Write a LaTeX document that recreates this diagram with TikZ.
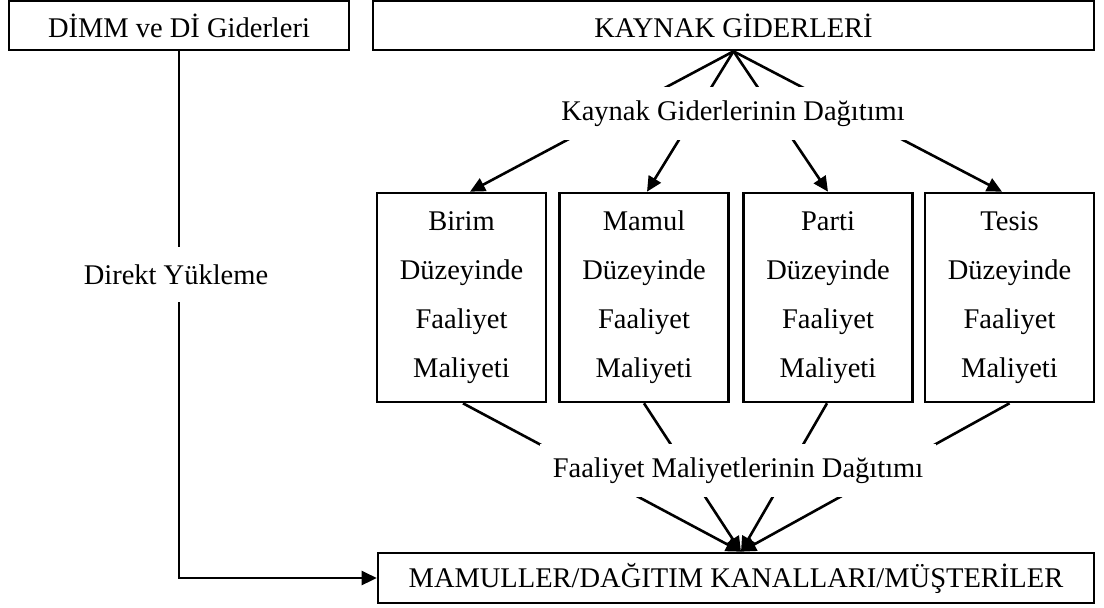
\documentclass[tikz,border=0pt]{standalone}
\usepackage{fontspec}
\setmainfont{Liberation Serif}
\usetikzlibrary{arrows.meta}
\begin{document}
\begin{tikzpicture}[x=1pt,y=-1pt,
  box/.style={draw,line width=2.6pt,inner sep=0pt,fill=white},
  actbox/.style={box,minimum width=169pt,minimum height=209pt,align=center,
    font=\fontsize{28.5}{49}\selectfont},
  lbl/.style={fill=white,inner sep=0pt,font=\fontsize{28.5}{32}\selectfont},
  conn/.style={line width=2.6pt},
  arr/.style={conn,-{Triangle[length=15pt,width=14pt]}},
  font=\fontsize{28.5}{32}\selectfont]
\useasboundingbox (0,0) rectangle (1104,608);

% cost pools
\node[box,minimum width=340pt,minimum height=49pt] (dimm) at (179,25.5) {DİMM ve Dİ Giderleri};
\node[box,minimum width=721pt,minimum height=49pt] (kaynak) at (733.5,25.5) {KAYNAK GİDERLERİ};

% activity levels
\node[actbox] (birim) at (461.5,297.5) {Birim\\Düzeyinde\\Faaliyet\\Maliyeti};
\node[actbox] (mamul) at (644,297.5) {Mamul\\Düzeyinde\\Faaliyet\\Maliyeti};
\node[actbox] (parti) at (828,297.5) {Parti\\Düzeyinde\\Faaliyet\\Maliyeti};
\node[actbox] (tesis) at (1009.5,297.5) {Tesis\\Düzeyinde\\Faaliyet\\Maliyeti};

% cost objects
\node[box,minimum width=716pt,minimum height=50pt] (obj) at (736,578) {MAMULLER/DAĞITIM KANALLARI/MÜŞTERİLER};

% resource cost allocation
\draw[arr] (kaynak.south) -- ([xshift=8.5pt]birim.north);
\draw[arr] (kaynak.south) -- ([xshift=3pt]mamul.north);
\draw[arr] (kaynak.south) -- (parti.north);
\draw[arr] (kaynak.south) -- ([xshift=-7.5pt]tesis.north);

% activity cost allocation
\coordinate (objtop) at ([xshift=5pt]obj.north);
\draw[arr] ([xshift=1.5pt]birim.south) -- (objtop);
\draw[arr] (mamul.south) -- (objtop);
\draw[arr] ([xshift=-1pt]parti.south) -- (objtop);
\draw[arr] (tesis.south) -- (objtop);

% direct tracing
\coordinate (corner) at (dimm.south |- obj.west);
\draw[arr] (dimm.south) -- (corner) -- (obj.west);

% labels over the connectors
\node[lbl,minimum width=346pt,minimum height=53pt] (kdist) at (733,113.5) {Kaynak Giderlerinin Dağıtımı};
\node[lbl,minimum width=396pt,minimum height=53pt] (fdist) at (738,470.5) {Faaliyet Maliyetlerinin Dağıtımı};
\node[lbl,minimum height=55pt,inner xsep=4pt] (direkt) at (176,274.5) {Direkt Yükleme};
\end{tikzpicture}
\end{document}
